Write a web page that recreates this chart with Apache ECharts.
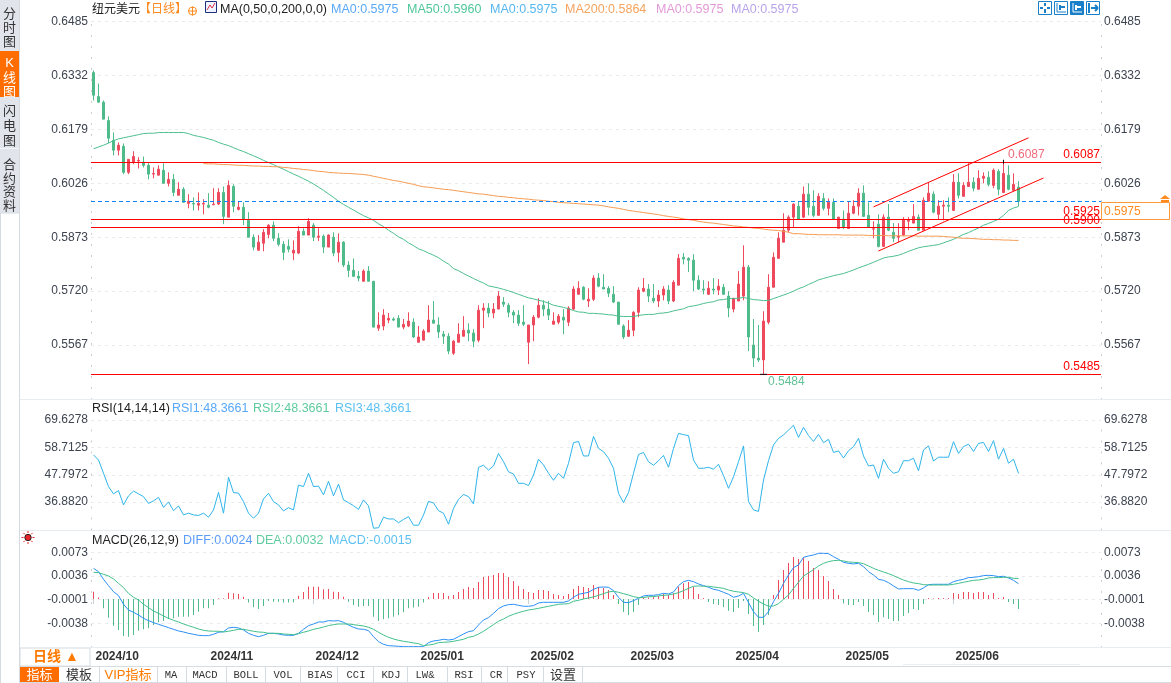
<!DOCTYPE html>
<html><head><meta charset="utf-8">
<style>html,body{margin:0;padding:0;background:#fff}#c{width:1171px;height:683px}</style>
<script src="https://cdn.jsdelivr.net/npm/echarts@6/dist/echarts.min.js"></script></head>
<body><div id="c"></div>
<script>
// prices are in units of 0.0001
const opens=[6340,6272,6256,6204,6148,6120,6131,6057,6086,6089,6086,6077,6052,6049,6063,6026,6037,5992,6009,5969,5969,5964,5967,5964,5965,5967,6000,5930,6017,5952,5958,5921,5873,5836,5856,5881,5907,5870,5853,5847,5828,5828,5890,5879,5907,5873,5876,5845,5873,5830,5859,5794,5779,5762,5748,5777,5748,5615,5621,5638,5641,5643,5618,5621,5632,5575,5581,5604,5638,5624,5598,5592,5544,5575,5592,5609,5601,5581,5666,5672,5658,5669,5689,5680,5660,5652,5632,5575,5624,5646,5680,5669,5626,5632,5646,5632,5669,5711,5731,5692,5697,5757,5731,5728,5711,5689,5621,5592,5609,5660,5720,5726,5700,5692,5709,5723,5692,5737,5816,5813,5808,5751,5726,5711,5726,5723,5731,5706,5669,5692,5706,5788,5567,5530,5525,5632,5731,5813,5859,5893,5930,5961,5930,5995,5961,5935,5983,5955,5972,5898,5924,5898,5941,5961,5998,5935,5896,5910,5847,5930,5887,5873,5879,5918,5913,5930,5893,5975,5995,5938,5961,5964,5949,6029,5989,6017,6029,6009,6040,6043,6020,6060,6000,6049,6006,6015];
const closes=[6276,6256,6208,6154,6120,6134,6057,6094,6102,6091,6077,6052,6054,6066,6026,6037,6000,6009,5972,5975,5967,5969,5969,5958,5967,6000,5932,6020,5961,5958,5924,5873,5845,5859,5887,5907,5870,5853,5830,5839,5836,5890,5879,5918,5873,5876,5845,5879,5828,5859,5794,5779,5762,5757,5777,5748,5618,5624,5652,5643,5638,5618,5626,5635,5590,5590,5607,5638,5629,5604,5592,5550,5578,5598,5609,5601,5578,5666,5672,5658,5669,5706,5683,5660,5652,5629,5626,5624,5646,5680,5669,5652,5635,5649,5638,5672,5726,5728,5697,5697,5757,5734,5726,5714,5689,5626,5590,5609,5660,5723,5728,5706,5692,5709,5726,5692,5745,5813,5811,5808,5751,5726,5723,5728,5723,5734,5711,5672,5700,5740,5788,5590,5530,5525,5635,5731,5816,5870,5893,5930,5967,5924,5995,5958,5935,5989,5955,5972,5924,5930,5901,5941,5961,5998,5932,5901,5897,5847,5930,5893,5870,5876,5924,5921,5932,5893,5978,5998,5944,5961,5964,5961,6029,5992,6020,6029,6012,6040,6046,6023,6063,6009,6054,6009,6023,5975];
const highs=[6346,6309,6261,6216,6170,6142,6139,6094,6117,6100,6102,6083,6071,6077,6083,6057,6052,6029,6015,5995,5986,6000,5981,5998,6012,6012,6017,6034,6023,5975,5972,5944,5881,5879,5896,5910,5918,5884,5862,5867,5864,5904,5898,5927,5913,5898,5881,5881,5887,5884,5862,5805,5813,5777,5782,5791,5748,5660,5669,5658,5646,5652,5641,5660,5643,5621,5612,5680,5692,5646,5607,5601,5581,5629,5649,5629,5612,5680,5686,5686,5686,5720,5703,5686,5666,5666,5680,5624,5652,5700,5694,5692,5660,5655,5669,5677,5734,5748,5734,5728,5765,5771,5768,5734,5734,5689,5626,5638,5663,5731,5757,5740,5740,5723,5734,5737,5751,5825,5828,5816,5825,5765,5751,5748,5757,5754,5740,5720,5700,5777,5850,5794,5641,5624,5663,5768,5830,5887,5941,5935,5969,5975,6017,6026,6006,5998,5998,5983,5983,5930,5949,5975,5978,6012,6020,5972,5918,5938,5938,5967,5913,5913,5930,5930,5967,5938,5986,6029,6003,5978,5978,5986,6052,6054,6029,6083,6043,6063,6057,6060,6068,6066,6087,6077,6054,6032];
const lows=[6261,6256,6208,6140,6105,6105,6052,6052,6080,6068,6071,6037,6040,6049,6026,6017,5989,5992,5972,5955,5949,5949,5938,5955,5965,5964,5910,5930,5944,5949,5907,5873,5836,5836,5833,5870,5862,5847,5808,5830,5808,5825,5879,5879,5862,5862,5828,5845,5819,5802,5788,5760,5760,5748,5748,5748,5618,5607,5609,5629,5635,5618,5612,5618,5587,5575,5581,5604,5629,5587,5570,5541,5539,5575,5592,5578,5561,5575,5615,5646,5643,5669,5675,5646,5629,5621,5621,5513,5578,5643,5649,5638,5626,5626,5598,5621,5666,5711,5694,5675,5692,5731,5726,5703,5686,5626,5584,5590,5592,5646,5717,5689,5686,5675,5694,5683,5689,5737,5796,5774,5720,5723,5711,5709,5711,5709,5709,5646,5660,5692,5694,5550,5505,5519,5484,5626,5731,5813,5859,5887,5901,5924,5927,5935,5930,5935,5949,5935,5924,5898,5896,5896,5938,5935,5932,5901,5870,5844,5845,5890,5859,5859,5876,5893,5913,5893,5893,5975,5941,5924,5921,5944,5949,5983,5989,6017,6003,6009,6026,6017,6012,5992,5998,6006,6003,5961];
const ma50=[6124,6129,6134,6140,6147,6152,6155,6158,6161,6164,6167,6168,6168,6170,6170,6170,6170,6170,6170,6167,6162,6159,6156,6152,6148,6142,6137,6133,6127,6121,6116,6110,6104,6098,6091,6085,6079,6072,6066,6059,6052,6046,6039,6032,6024,6015,6006,5996,5986,5975,5966,5958,5950,5942,5934,5928,5921,5911,5903,5893,5884,5874,5867,5857,5849,5840,5835,5828,5822,5815,5805,5797,5784,5778,5770,5763,5756,5749,5743,5735,5732,5729,5725,5721,5716,5711,5706,5701,5698,5694,5691,5686,5680,5677,5674,5670,5665,5661,5660,5657,5657,5656,5655,5653,5652,5649,5648,5648,5648,5651,5653,5654,5654,5657,5658,5660,5664,5667,5670,5676,5678,5681,5685,5688,5690,5695,5696,5699,5699,5700,5702,5699,5696,5695,5693,5694,5699,5704,5709,5714,5720,5727,5732,5739,5745,5752,5756,5760,5764,5767,5770,5775,5780,5786,5791,5796,5802,5808,5814,5817,5819,5822,5827,5833,5838,5843,5846,5848,5850,5852,5857,5862,5867,5874,5881,5886,5893,5899,5907,5912,5918,5924,5935,5949,5956,5960];
const ma200From=22;
const ma200=[6082,6081,6081,6080,6079,6079,6078,6077,6077,6076,6075,6075,6074,6074,6073,6073,6071,6070,6068,6067,6065,6064,6062,6060,6059,6057,6056,6055,6054,6054,6053,6052,6051,6049,6046,6043,6040,6037,6034,6032,6029,6026,6023,6019,6016,6015,6013,6011,6009,6008,6006,6004,6002,6000,5998,5996,5995,5993,5991,5989,5988,5986,5985,5983,5982,5981,5979,5978,5977,5975,5974,5972,5971,5970,5969,5968,5967,5966,5965,5964,5962,5959,5957,5955,5952,5949,5947,5945,5943,5941,5939,5937,5934,5932,5930,5928,5925,5923,5921,5918,5916,5914,5913,5911,5909,5907,5905,5904,5902,5901,5899,5898,5896,5894,5893,5892,5890,5887,5883,5883,5882,5881,5881,5880,5880,5880,5880,5880,5879,5879,5879,5879,5879,5878,5878,5878,5878,5877,5877,5877,5877,5877,5877,5876,5876,5876,5876,5876,5875,5874,5873,5871,5870,5870,5869,5868,5867,5867,5866,5866,5865,5865,5864,5864];
const rsi=[55.7,53.7,48.4,43.1,40.2,41.5,35.8,39.4,41.3,40.2,39.1,36.4,37.4,38.8,34.8,37,33.5,35.4,31.8,32.5,31.8,31.6,32.5,30.9,33.8,40.8,32.5,46.8,40.7,40.5,37.1,32.5,30.5,32.5,38.2,40.4,37.1,35.8,33.4,34.7,33.8,43.7,43.1,48.4,43.1,43.3,39.8,45.2,39.4,44.1,37.8,36.7,35.5,34,37.8,35.4,26.5,26.7,30.9,30.2,30.2,28.7,30,31.1,27.7,27.7,31.8,37.2,36.6,33.5,32.5,28.1,34.4,38,40,39.1,36.2,50.8,51.6,49.7,51.3,56.3,53,49,48.1,44.4,44.4,43.5,47.7,54,51.7,48.4,45.6,48.4,46.4,52.4,60.6,61.1,55.3,55.3,63.1,58.3,57,54.4,50.4,40.4,36.7,40.7,48.4,55.9,56.7,53,51.6,53.4,55.5,50.8,58.3,64.3,63.8,63.4,53.7,50.4,50.4,50.8,50,52,47.5,42.4,47,53,59.3,37.1,33.8,33.2,45.7,53.4,59.7,62.3,63.7,65.6,67.5,62.7,66.7,63.4,61.1,63.9,60.6,61.9,56.7,57.3,54.5,57.4,59,62.3,55.3,51.3,51.7,46.4,54,50.4,48.4,49,53.4,53.4,54.4,49.4,57.7,59.3,53.3,54.8,54.8,54.8,61,56.3,59,60,57.1,60.3,60.7,57.1,61.4,54,58.3,52.4,54,48.37];
// MACD family in units of 0.0001
const diff=[48,42.8,30.9,21,11.6,5.4,-8.1,-17,-20.6,-24.8,-30,-33.6,-36.7,-39.3,-41.9,-44.5,-47.1,-49.7,-51.3,-53.4,-54.9,-56.5,-57,-57,-54.9,-51.8,-50.8,-45,-44,-45,-48.2,-53.4,-56.5,-58.6,-56.5,-53.4,-53.4,-54.4,-56,-56.5,-56.5,-53.4,-47.1,-41.4,-38.8,-35.7,-35.7,-33.6,-34.1,-33.6,-36.2,-40.4,-44,-46.6,-47.1,-49.2,-58.6,-66.4,-70.5,-72.6,-73.1,-73.6,-74.2,-74.2,-74.2,-74.2,-74.2,-67.9,-65.3,-64.3,-62.7,-63.8,-62.7,-58.6,-54.4,-50.8,-49.2,-40.4,-32.6,-28.9,-22.2,-14.9,-10.7,-8.6,-8.1,-9.7,-11.2,-11.2,-10.2,-6,-5,-5,-5,-5,-5,-2.9,2.8,7.5,9,10.6,15.3,18.4,18.9,18.4,13.2,2.8,-5,-5.5,-2.4,1.2,4.9,5.9,5.9,7,9,8,11.1,21,27.2,29.3,27.2,23.6,21,18.4,15.3,13.7,10.6,7.5,2.8,4.9,9,-5.5,-19.6,-28.4,-28.4,-19.6,-4,9,24.6,37.6,49.1,53.2,65.2,67.3,68.8,71.4,71.4,70.9,66.2,62.1,57.4,55.8,54.8,55.8,50.6,42.8,37.6,30.9,29.3,25.7,20.5,15.8,16.3,16.3,16.3,13.7,17.4,22.6,23.1,23.1,23.1,23.1,27.2,29.3,30.9,33.5,34,35,36.6,37.1,36.6,35,35.6,33,29.3,24];
const dea=[41.8,41.3,38.7,36.1,31.4,24.6,17.9,9,2.8,-1.4,-8.1,-13.3,-18.5,-22.2,-26.3,-30,-33.1,-35.7,-38.8,-41.4,-44,-46.6,-48.7,-49.7,-50.2,-50.2,-51.3,-50.2,-48.7,-47.1,-47.1,-48.7,-50.2,-51.3,-51.8,-53.4,-53.4,-53.4,-54.4,-54.9,-55.4,-53.9,-51.8,-49.7,-47.1,-45.6,-43.5,-41.4,-39.8,-38.8,-38.8,-38.8,-39.8,-40.9,-41.9,-44,-47.1,-51.8,-56,-59.6,-62.2,-64.3,-65.8,-66.9,-68.4,-69.5,-72.6,-71.6,-70.5,-67.9,-67.4,-66.9,-65.8,-64.3,-62.7,-59.6,-58,-54.4,-50.2,-45,-39.8,-34.6,-31,-26.8,-23.7,-21.1,-19,-17,-15.9,-14.4,-12.8,-11.2,-9.7,-8.1,-7.6,-7.1,-3.4,-1.9,0.2,1.8,3.3,5.9,8.5,11.1,12.2,10.6,8.5,6.4,3.8,2.3,2.3,3.8,3.8,4.9,5.9,6.4,8,10.1,13.2,16.8,20,20.5,20,20,18.9,17.9,16.8,14.2,12.2,11.1,10.1,7.5,1.8,-3.4,-7.6,-11.2,-10.7,-7.1,-0.3,6.4,16.8,26.2,36.1,40.8,46,51.7,55.8,58.4,60,60.5,59.5,57.9,57.4,56.9,55.3,51.7,48,44.9,42.3,39.7,36.6,33,29.8,27.2,25.2,24.1,22.6,22,22,22,22,22,23.1,24.6,26.2,27.8,29.3,29.8,30.9,33,33.5,33.5,34,34,32.4,32];
const macdBars=[11.6,2.3,-14.4,-28.9,-41.4,-48.2,-57.5,-58.6,-56,-49.2,-47.1,-45.6,-40.4,-36.2,-34.1,-31,-30,-27.4,-27.4,-27.4,-24.8,-19.6,-14.4,-14.4,-9.2,0.8,1.5,10,9,8,3.8,-5.5,-12.8,-15.4,-10.7,-2.9,-4,-4,-5.5,-5.5,-5,5.4,11.1,19.4,19.4,19.4,15.3,15.8,11.6,11.1,3.8,-4,-9.2,-11.8,-10.7,-10.7,-27.4,-34.1,-31.5,-30,-27.4,-24.8,-20.6,-14.4,-13.3,-11.8,-5.5,3.3,9.6,9.6,9.6,4.9,6.4,11.1,15.8,18.9,17.4,26.7,34.5,36,37.6,40.8,40.8,34.5,28.3,20.5,15.8,11.1,9.6,14.2,14.2,12.7,8,6.4,4.9,8,15.8,20.5,18.9,17.4,22,18.9,17.4,14.2,6.4,-7.6,-20,-24.8,-20,-9.2,2.3,2.3,3.8,4.9,8,6.4,9,19.4,24.6,26.7,19.4,8,1.8,-4.5,-7.6,-9.2,-12.3,-18,-20,-13.8,-2.9,-23.2,-41.9,-51.3,-40.4,-24.8,6.4,29.8,45.4,56.4,65.7,62.6,65.2,59.5,48.6,45.4,36,28.3,15.8,6.4,-6,-9.2,-9.2,-4.5,-10.7,-20,-24.8,-35.7,-28.4,-31,-34.1,-34.1,-26.3,-21.6,-15.4,-17,-7.6,1.8,0.8,1.8,1.8,1.8,9.6,8,11.1,11.1,9.6,11.1,11.1,6.4,9.6,1.8,3.3,-4.5,-7.6,-15.4];
const monthStarts=[0,23,44,65,87,107,128,150,172];
const monthLabels=['2024/10','2024/11','2024/12','2025/01','2025/02','2025/03','2025/04','2025/05','2025/06'];
const slotCount=202;
const priceTicks=[0.6485,0.6332,0.6179,0.6026,0.5873,0.5720,0.5567];
const rsiTicks=[69.6278,58.7125,47.7972,36.8820];
const macdTicks=[0.0073,0.0036,-0.0001,-0.0038];
const levelLines=[0.6087,0.5925,0.5900,0.5485];
const lastPrice=0.5975, peak=0.6087, trough=0.5484;
const channelUpper=[[156,0.5959],[187,0.6155]];
const channelLower=[[157,0.5834],[190,0.6041]];
const tabs=[['模板',79,'#333',13],['VIP指标',128,'#ff7a00',13],['MA',171],['MACD',205],['BOLL',246],['VOL',283],['BIAS',320],['CCI',356],['KDJ',391],['LW&',425],['RSI',464],['CR',496],['PSY',526],['设置',563,'#333',13]];
const tabDividers=[99,157,186,226,265,300,337,373,407,447,481,507,543,582];

const FONT='"Liberation Sans","Noto Sans CJK SC",sans-serif';
const RED='#ee4a5d',GREEN='#4fba8a';
const chart=echarts.init(document.getElementById('c'),null,{renderer:'canvas'});
const P=v=>v==null?null:+(v/10000).toFixed(5);
const cats=Array.from({length:slotCount},(_,i)=>{const k=monthStarts.indexOf(i);return k>=0?monthLabels[k]:''});
const candle=opens.map((o,i)=>[P(o),P(closes[i]),P(lows[i]),P(highs[i])]);
const isMonth=i=>monthStarts.indexOf(i)>=0;
function xAxis(idx,show){return{type:'category',gridIndex:idx,data:cats,boundaryGap:true,
  axisLine:{show:false},
  axisTick:{show:show,interval:isMonth,alignWithLabel:true,length:5,lineStyle:{color:'#c9d2d8'}},
  axisLabel:{show:show,interval:isMonth,showMinLabel:true,align:'left',margin:2,padding:[1,0,0,2],color:'#333',fontWeight:'bold',fontSize:12,fontFamily:FONT,hideOverlap:false},
  splitLine:{show:false}}}
function yAxis(idx,pos,min,max,ticks,dec){const left=pos==='left';return{type:'value',gridIndex:idx,position:pos,min,max,scale:true,
  axisLine:{show:true,onZero:false,lineStyle:{color:'#c8c8c8',type:[1,10]}},
  axisTick:{show:false,customValues:ticks},
  axisLabel:{customValues:ticks,margin:3,padding:[1,0,0,0],color:'#3d4450',fontSize:12,fontFamily:FONT,formatter:v=>v.toFixed(dec)},
  splitLine:{show:left,lineStyle:{color:'#eaeaea',type:[3,4],width:1}}}}
const T=(text,x,y,fill,size,extra)=>({type:'text',silent:true,z:50,style:Object.assign({text,x,y,fill,font:(size||12.5)+'px '+FONT,verticalAlign:'middle',align:'left'},extra||{})});
const R=(x,y,w,h,fill,stroke)=>({type:'rect',silent:true,z:40,shape:{x,y,width:w,height:h},style:{fill:fill||'transparent',stroke:stroke||null,lineWidth:1}});
const L=(x1,y1,x2,y2,c,w)=>({type:'line',silent:true,z:41,shape:{x1,y1,x2,y2},style:{stroke:c,lineWidth:w||1}});
const g=[];
// sidebar
g.push(R(0,0,19,213,'#e1e4eb'));g.push(R(0,51,19,46,'#ff6d00'));
g.push(L(0.5,213,0.5,683,'#d5dbe2'),L(19.5,0,19.5,683,'#d5dbe2'),L(0,148.5,19,148.5,'#f4f5f8'),L(0,213,19,213,'#d5dbe2'));
[['分',14],['时',28],['图',42],['闪',111],['电',126],['图',141],['合',165],['约',179],['资',192],['料',206]].forEach(a=>g.push(T(a[0],9.5,a[1],'#333',13,{align:'center'})));
[['K',63],['线',78],['图',92]].forEach(a=>g.push(T(a[0],9.5,a[1],'#fff',13,{align:'center'})));
// panel separators
[399.5,530.5,647.5].forEach(y=>g.push(L(20,y,1171,y,'#e6ecef')));
g.push(L(20,666.5,1171,666.5,'#d5dce2'),L(20,682.5,1171,682.5,'#d5dce2'),L(903,664.5,1080,664.5,'#eceff1'));
// title row
g.push(T('纽元美元',92,9.5,'#222',12),T('【日线】',139,9.5,'#ff8a1f',12));
g.push({type:'circle',silent:true,z:50,shape:{cx:192.5,cy:11,r:4},style:{fill:'transparent',stroke:'#ff8a1f'}},L(188,11,197,11,'#ff8a1f'),L(192.5,6.5,192.5,15.5,'#ff8a1f'));
g.push(R(205.5,1.5,11,11,'#eef3ff','#1c2f7a'),{type:'polyline',silent:true,z:51,shape:{points:[[207,10],[210,5],[212,8],[215,3]]},style:{stroke:'#e0304a',fill:null}});
g.push(T('MA(0,50,0,200,0,0)',220,9.5,'#222',12.5));
[['MA0:0.5975',331,'#5aa8f7'],['MA50:0.5960',407,'#4fc79b'],['MA0:0.5975',490,'#56b7ee'],['MA200:0.5864',565,'#f5a45e'],['MA0:0.5975',656,'#e39ad8'],['MA0:0.5975',731,'#b9a3ea']].forEach(a=>g.push(T(a[0],a[1],9.5,a[2],12.5)));
// RSI and MACD titles
g.push(T('RSI(14,14,14)',92,409,'#222',12.5));
[['RSI1:48.3661',172,'#5aa8f7'],['RSI2:48.3661',253,'#5fcb9f'],['RSI3:48.3661',335,'#5cc0f2']].forEach(a=>g.push(T(a[0],a[1],409,a[2],12.5)));
g.push(T('MACD(26,12,9)',92,541,'#222',12.5));
[['DIFF:0.0024',183,'#5a9cf7'],['DEA:0.0032',256,'#5fcb9f'],['MACD:-0.0015',329,'#5cc0f2']].forEach(a=>g.push(T(a[0],a[1],541,a[2],12.5)));
// gear/sun icon
for(let a=0;a<8;a++){const c=Math.cos(a*Math.PI/4),s=Math.sin(a*Math.PI/4);g.push(L(28+c*4.5,537.5+s*4.5,28+c*6.5,537.5+s*6.5,'#e8242c'))}
g.push({type:'circle',silent:true,z:50,shape:{cx:28,cy:537.5,r:3.2},style:{fill:'#e8242c',stroke:'#222'}});
// toolbar icons
[1038,1054,1070,1086].forEach((x,i)=>{g.push(R(x+.5,1.5,13,13,i===2?'#1a7fc9':'#fff','#1a7fc9'));
 const c=i===2?'#fff':'#1a7fc9';
 if(i===0){g.push(L(x+7,3,x+7,6,c,2),L(x+7,9,x+7,13,c,2),L(x+2,8,x+5,8,c,2),L(x+9,8,x+12,8,c,2))}
 else if(i===3){g.push(L(x+3,3,x+3,13,c,2),L(x+5,8,x+11,8,c,2),L(x+9,5,x+12,8,c,2),L(x+9,11,x+12,8,c,2))}
 else{g.push(L(x+3,3,x+3,12,c),L(x+3,12,x+12,12,c),L(x+6,5,x+6,10,c,2),L(x+7,7,x+11,7,c,2))}});
// price tag
g.push(R(1101.5,202.5,68,17,'#fff','#ff9a3c'),T('0.5975',1104,211.5,'#ff8a1f',12));
g.push({type:'polygon',silent:true,z:50,shape:{points:[[1160,199],[1165,195],[1170,199]]},style:{fill:'#ff8a1f'}},R(1161,200,8,2,'#ff8a1f'));
// bottom tabs
g.push(R(20,648,70,18,'#fff','#d5dce2'));
g.push(T('日线 ▲',33,657.5,'#ff7a00',14,{font:'bold 14px '+FONT}));
g.push(R(20,667,39,15,'#ff6d00'),T('指标',39.5,675.5,'#fff',13,{align:'center'}));
tabDividers.forEach(x=>g.push(L(x+.5,667,x+.5,682,'#d5dce2')));
tabs.forEach(t=>{const cjk=t[2];g.push(T(t[0],t[1],675.5,t[2]||'#333',t[3]||11,cjk?{align:'center'}:{align:'center',font:'10.5px "Liberation Mono",monospace'}))});

const trend={lineStyle:{color:'#f00',width:1,type:'solid'},label:{show:false}};
const option={animation:false,backgroundColor:'#fff',textStyle:{fontFamily:FONT},
 grid:[{left:91,width:1010,top:21.5,height:378},{left:91,width:1010,top:420,height:110},{left:91,width:1010,top:552.3,height:95.2}],
 xAxis:[xAxis(0,false),xAxis(1,false),xAxis(2,true)],
 yAxis:[yAxis(0,'left',0.54126,0.6485,priceTicks,4),yAxis(0,'right',0.54126,0.6485,priceTicks,4),
        yAxis(1,'left',25.8,69.6278,rsiTicks,4),yAxis(1,'right',25.8,69.6278,rsiTicks,4),
        yAxis(2,'left',-0.00755,0.0073,macdTicks,4),yAxis(2,'right',-0.00755,0.0073,macdTicks,4)],
 series:[
  {type:'candlestick',name:'NZDUSD',xAxisIndex:0,yAxisIndex:0,data:candle,barWidth:3,z:3,
   itemStyle:{color:RED,color0:GREEN,borderColor:RED,borderColor0:GREEN,borderWidth:1},
   markLine:{silent:true,precision:5,symbol:['none','none'],z:6,
    lineStyle:{color:'#f00',width:1,type:'solid'},
    data:levelLines.map(v=>({yAxis:v,label:{show:true,position:'insideEndTop',distance:1,formatter:v.toFixed(4),color:'#f00',fontSize:12,fontFamily:FONT}}))
     .concat([{yAxis:lastPrice,lineStyle:{color:'#0a84ff',type:[4,3],width:1},label:{show:false}},
      [Object.assign({coord:channelUpper[0]},trend),{coord:channelUpper[1]}],
      [Object.assign({coord:channelLower[0]},trend),{coord:channelLower[1]}]])},
   markPoint:{silent:true,z:8,data:[
     {coord:[182,peak],symbol:'rect',symbolSize:[1,4],itemStyle:{color:'#111'},label:{show:true,position:'right',distance:4,offset:[0,-7],formatter:peak.toFixed(4),color:'#f06a7b',fontSize:12,fontFamily:FONT}},
     {coord:[134,trough],symbol:'rect',symbolSize:[7,1],itemStyle:{color:'#111'},label:{show:true,position:'right',distance:1,offset:[0,7],formatter:trough.toFixed(4),color:'#62c296',fontSize:12,fontFamily:FONT}}]}},
  {type:'line',name:'MA50',xAxisIndex:0,yAxisIndex:0,data:ma50.map(P),showSymbol:false,z:4,lineStyle:{color:'#4cbf8e',width:1}},
  {type:'line',name:'MA200',xAxisIndex:0,yAxisIndex:0,data:Array(ma200From).fill(null).concat(ma200).map(P),showSymbol:false,z:4,lineStyle:{color:'#f59b52',width:1}},
  {type:'line',name:'RSI',xAxisIndex:1,yAxisIndex:2,data:rsi,showSymbol:false,lineStyle:{color:'#2fb4e9',width:1}},
  {type:'bar',name:'MACD',xAxisIndex:2,yAxisIndex:4,barWidth:1,data:macdBars.map(P),z:2,itemStyle:{color:p=>p.value>=0?RED:GREEN}},
  {type:'line',name:'DIFF',xAxisIndex:2,yAxisIndex:4,data:diff.map(P),showSymbol:false,z:4,lineStyle:{color:'#2a8ff7',width:1}},
  {type:'line',name:'DEA',xAxisIndex:2,yAxisIndex:4,data:dea.map(P),showSymbol:false,z:4,lineStyle:{color:'#41c08b',width:1}}
 ],
 graphic:{elements:g}};
chart.setOption(option);
</script></body></html>
